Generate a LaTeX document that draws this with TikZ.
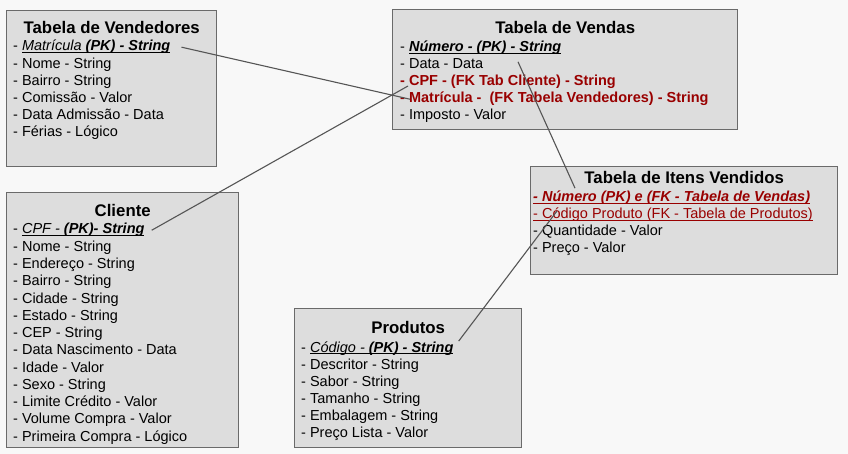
\documentclass[tikz,border=0pt]{standalone}
\usepackage{fontspec}
\setmainfont{Liberation Sans}
\usetikzlibrary{positioning}

\definecolor{fundo}{HTML}{F8F8F8}
\definecolor{caixa}{HTML}{DDDDDD}
\definecolor{borda}{HTML}{6A6A6A}
\definecolor{chave}{HTML}{990000}
\definecolor{linha}{HTML}{555555}
\newsavebox\caixasub
\newcommand{\sublinha}[1]{\sbox\caixasub{#1}\rlap{\usebox\caixasub}\rule[-1.8pt]{\wd\caixasub}{0.9pt}}
\newcommand{\pk}[1]{\sublinha{\textbf{\textit{#1}}}}

\begin{document}
\begin{tikzpicture}[x=1pt, y=-1pt,
  tabela/.style={draw=borda, fill=caixa, line width=1.4pt, anchor=north west, inner sep=0pt},
  titulo/.style={font=\bfseries\fontsize{16.8}{19}\selectfont, inner sep=0pt},
  campo/.style={font=\fontsize{14.5}{17}\selectfont, inner sep=0pt, anchor=base west},
  liga/.style={draw=linha, line width=1.1pt}]
\useasboundingbox (0,0) rectangle (848,454);
\fill[fundo] (0,0) rectangle (848,454);

% Tabela de Vendedores
\node[tabela, minimum width=210pt, minimum height=156pt] (vendedores) at (6,10) {};
\node[titulo, below=11pt of vendedores.north] (vendedores-titulo) {Tabela de Vendedores};
\foreach \campo [count=\i] in {{- \sublinha{\textit{Matrícula} \textbf{\textit{(PK) - String}}}},
    - Nome - String, - Bairro - String, - Comissão - Valor, - Data Admissão - Data, - Férias - Lógico}
  \node[campo] (vend-\i) at (13, 33.8+17.2*\i) {\campo};

% Tabela de Vendas
\node[tabela, minimum width=345pt, minimum height=120pt] (vendas) at (392,9) {};
\node[titulo, below=12pt of vendas.north] (vendas-titulo) {Tabela de Vendas};
\foreach \campo [count=\i] in {{- \pk{Número - (PK) - String}}, - Data - Data,
    {\color{chave}\bfseries - CPF - (FK Tab Cliente) - String},
    {\color{chave}\bfseries - Matrícula - \ (FK Tabela Vendedores) - String}, - Imposto - Valor}
  \node[campo] (vendas-\i) at (400, 35+17*\i) {\campo};

% Tabela de Itens Vendidos
\node[tabela, minimum width=307pt, minimum height=108pt] (itens) at (530,166) {};
\node[titulo, below=5pt of itens.north] (itens-titulo) {Tabela de Itens Vendidos};
\foreach \campo [count=\i] in {{\color{chave}\pk{- Número (PK) e (FK - Tabela de Vendas)}},
    {\color{chave}\sublinha{- Código Produto (FK - Tabela de Produtos)}},
    - Quantidade - Valor, - Preço - Valor}
  \node[campo] (itens-\i) at (533, 185+17*\i) {\campo};

% Cliente
\node[tabela, minimum width=232pt, minimum height=255pt] (cliente) at (6,192) {};
\node[titulo, below=12pt of cliente.north] (cliente-titulo) {Cliente};
\foreach \campo [count=\i] in {{- \sublinha{\textit{CPF - }\textbf{\textit{(PK)- String}}}},
    - Nome - String, - Endereço - String, - Bairro - String, - Cidade - String,
    - Estado - String, - CEP - String, - Data Nascimento - Data, - Idade - Valor,
    - Sexo - String, - Limite Crédito - Valor, - Volume Compra - Valor,
    - Primeira Compra - Lógico}
  \node[campo] (cli-\i) at (13, 216.75+17.25*\i) {\campo};

% Produtos
\node[tabela, minimum width=227pt, minimum height=139pt] (produtos) at (294,308) {};
\node[titulo, below=13pt of produtos.north] (produtos-titulo) {Produtos};
\foreach \campo [count=\i] in {{- \sublinha{\textit{Código - }\textbf{\textit{(PK) - String}}}},
    - Descritor - String, - Sabor - String, - Tamanho - String,
    - Embalagem - String, - Preço Lista - Valor}
  \node[campo] (prod-\i) at (301, 335+17*\i) {\campo};

% ligacoes
\draw[liga] ([xshift=11pt]vend-1.east) -- ([xshift=10pt]vendas-4.west);
\draw[liga] ([xshift=7pt]cli-1.east) -- ([xshift=8pt]vendas-3.base west);
\draw[liga] ([xshift=118pt,yshift=-3pt]vendas-2.north west) -- ([xshift=42pt,yshift=3pt]itens-1.north west);
\draw[liga] ([xshift=5pt]prod-1.north east) -- ([xshift=24pt,yshift=8pt]itens-2.base west);
\end{tikzpicture}
\end{document}
